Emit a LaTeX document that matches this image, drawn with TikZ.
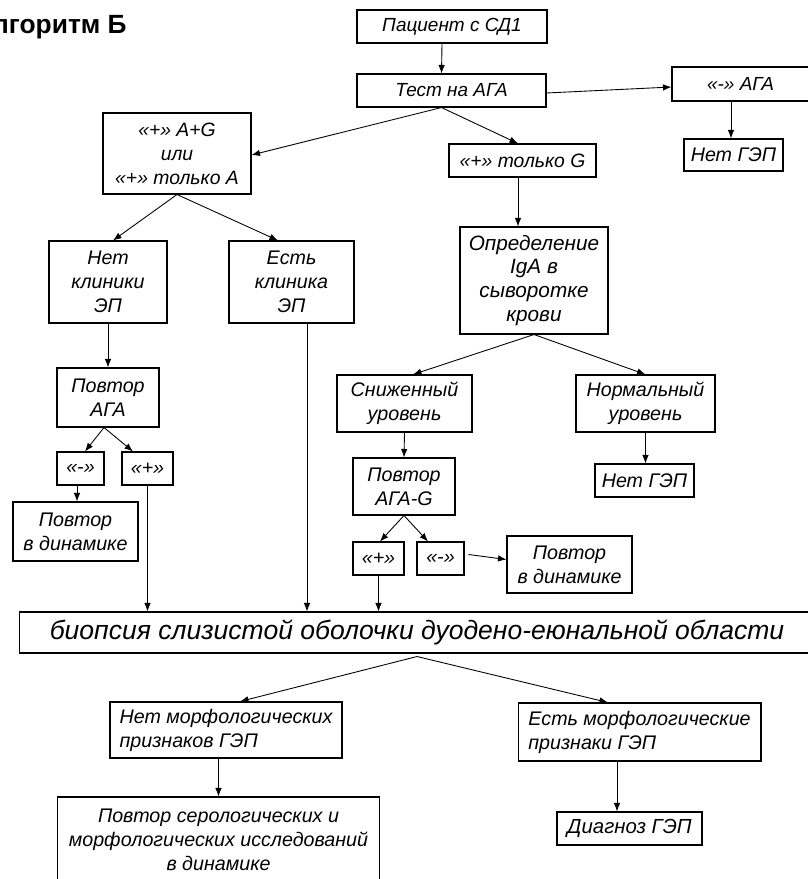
\documentclass[tikz,border=0pt]{standalone}
\usepackage{fontspec}
\setmainfont{Liberation Sans}
\usetikzlibrary{arrows.meta}

\tikzset{
  blk/.style={draw, line width=0.6pt, inner sep=1pt, align=center, font=\itshape\fontsize{11.2}{13.6}\selectfont},
  toptxt/.style={font=\itshape\fontsize{10.8}{13.6}\selectfont},
  bigtxt/.style={font=\itshape\fontsize{11.6}{13.6}\selectfont},
  arr/.style={-{Latex[length=1.7mm,width=1.3mm]}, line width=0.5pt},
}

\begin{document}
\begin{tikzpicture}[x=0.02cm,y=-0.02cm]
	\useasboundingbox (0,0) rectangle (808,879);
	\node[anchor=base east, inner sep=0pt, font=\bfseries\fontsize{15}{17}\selectfont] (title) at (127,33) {Алгоритм Б};
	
	% upper part
	\node[blk, toptxt, minimum width=3.8cm, minimum height=0.66cm] (pat) at (452,26.5) {Пациент с СД1};
	\node[blk, toptxt, minimum width=3.78cm, minimum height=0.66cm] (test) at (451.5,90.5) {Тест на АГА};
	\node[blk, toptxt, minimum width=2.74cm, minimum height=0.68cm] (neg) at (740.5,84) {«-» АГА};
	\node[blk, minimum width=1.98cm, minimum height=0.64cm] (nogep1) at (733.5,155) {Нет ГЭП};
	\node[blk, font=\itshape\fontsize{11}{13.6}\selectfont, minimum width=2.96cm, minimum height=1.62cm] (ag) at (177,153.5) {«+» A+G\\или\\«+» только A};
	\node[blk, font=\itshape\fontsize{11}{13.6}\selectfont, minimum width=2.94cm, minimum height=0.66cm] (onlyg) at (522.5,160.5) {«+» только G};
	\node[blk, font=\itshape\fontsize{11.8}{13.6}\selectfont, minimum width=2.96cm, minimum height=2.14cm] (iga) at (534,280.5) {Определение\\IgA в\\сыворотке\\крови};
	
	% left branch
	\node[blk, minimum width=2.36cm, minimum height=1.64cm] (noclin) at (108,282) {Нет\\клиники\\ЭП};
	\node[blk, minimum width=2.5cm, minimum height=1.64cm] (clin) at (291.5,282) {Есть\\клиника\\ЭП};
	\node[blk, minimum width=2.04cm, minimum height=1.18cm] (rep1) at (108,397.5) {Повтор\\АГА};
	\node[blk, minimum width=0.94cm, minimum height=0.66cm] (m1) at (80.5,468.5) {«-»};
	\node[blk, minimum width=1.02cm, minimum height=0.66cm] (p1) at (147.5,468.5) {«+»};
	\node[blk, minimum width=2.5cm, minimum height=1.18cm] (dyn1) at (75.5,531.5) {Повтор\\в динамике};
	
	% right branch
	\node[blk, minimum width=2.7cm, minimum height=1.14cm] (low) at (404.5,403.5) {Сниженный\\уровень};
	\node[blk, minimum width=2.78cm, minimum height=1.14cm] (norm) at (645.5,403.5) {Нормальный\\уровень};
	\node[blk, minimum width=2.04cm, minimum height=1.14cm] (repg) at (404,486.5) {Повтор\\АГА-G};
	\node[blk, minimum width=1.98cm, minimum height=0.66cm] (nogep2) at (644.5,480.5) {Нет ГЭП};
	\node[blk, minimum width=1.02cm, minimum height=0.66cm] (p2) at (378.5,558.5) {«+»};
	\node[blk, minimum width=0.94cm, minimum height=0.66cm] (m2) at (440.5,558.5) {«-»};
	\node[blk, minimum width=2.5cm, minimum height=1.14cm] (dyn2) at (569.5,564.5) {Повтор\\в динамике};
	
	% biopsy and below
	\node[blk, font=\itshape\fontsize{15.1}{17}\selectfont, minimum width=15.92cm, minimum height=0.82cm] (bio) at (417,632.5) {биопсия слизистой оболочки дуодено-еюнальной области};
	\node[blk, align=left, minimum width=4.64cm, minimum height=1.12cm] (nomorph) at (226,730) {Нет морфологических\\признаков ГЭП};
	\node[blk, align=left, minimum width=4.86cm, minimum height=1.16cm] (morph) at (639.5,732) {Есть морфологические\\признаки ГЭП};
	\node[blk, minimum width=6.46cm, minimum height=1.72cm] (sero) at (218.5,840) {Повтор серологических и\\морфологических исследований\\в динамике};
	\node[blk, bigtxt, minimum width=2.9cm, minimum height=0.66cm] (diag) at (629.5,828.5) {Диагноз ГЭП};
	
	% connectors
	\draw[arr] ([xshift=-0.2cm]pat.south) -- ([xshift=-0.2cm]test.north);
	\draw[arr] ([yshift=-0.05cm]test.east) -- ([yshift=-0.06cm]neg.west);
	\draw[arr] ([xshift=-0.05cm]nogep1.north |- neg.south) -- ([xshift=-0.05cm]nogep1.north);
	\draw[arr] ([xshift=-0.2cm]test.south) -- ([yshift=-0.03cm]ag.east);
	\draw[arr] ([xshift=-0.2cm]test.south) -- ([xshift=-0.09cm]onlyg.north);
	\draw[arr] ([xshift=-0.09cm]onlyg.south) -- ([xshift=-0.09cm]onlyg.south |- iga.north);
	\draw[arr] (ag.south) -- ([xshift=0.1cm]noclin.north);
	\draw[arr] (ag.south) -- ([xshift=-0.27cm]clin.north);
	\draw[arr] (noclin.south) -- (rep1.north);
	\draw[arr] ([xshift=-0.08cm]rep1.south) -- ([xshift=0.09cm]m1.north);
	\draw[arr] ([xshift=-0.08cm]rep1.south) -- ([xshift=-0.29cm]p1.north);
	\draw[arr] ([xshift=-0.07cm]m1.south) -- ([xshift=-0.07cm]m1.south |- dyn1.north);
	\draw[arr] (p1.south) -- (p1.south |- bio.north);
	\draw[arr] ([xshift=0.31cm]clin.south) -- ([xshift=0.31cm]clin.south |- bio.north);
	\draw[arr] (iga.south) -- ([xshift=0.17cm]low.north);
	\draw[arr] (iga.south) -- (norm.north);
	\draw[arr] (low.south) -- (repg.north);
	\draw[arr] (norm.south) -- (norm.south |- nogep2.north);
	\draw[arr] (repg.south) -- ([xshift=0.03cm]p2.north);
	\draw[arr] (repg.south) -- ([xshift=-0.25cm]m2.north);
	\draw[arr] ([shift={(0.08cm,0.08cm)}]m2.east) -- ([yshift=0.1cm]dyn2.west);
	\draw[arr] (p2.south) -- (p2.south |- bio.north);
	\coordinate (biotip) at ([yshift=-0.06cm]bio.south);
	\draw[arr] (biotip) -- ([xshift=0.28cm]nomorph.north);
	\draw[arr] (biotip) -- ([xshift=-0.63cm]morph.north);
	\draw[arr] (sero.north |- nomorph.south) -- (sero.north);
	\draw[arr] ([xshift=-0.25cm]diag.north |- morph.south) -- ([xshift=-0.25cm]diag.north);
\end{tikzpicture}
\end{document}
